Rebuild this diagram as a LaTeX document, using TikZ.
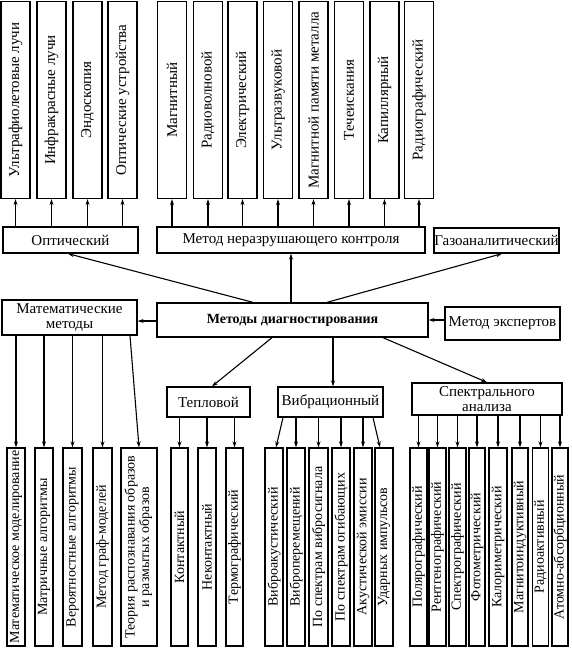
\documentclass[tikz,border=0pt]{standalone}
\usepackage{fontspec}
\setmainfont{Liberation Serif}
\usetikzlibrary{arrows.meta}
\begin{document}
\begin{tikzpicture}[x=1pt,y=-1pt,
  box/.style={draw, line width=1.3pt, inner sep=0pt},
  topbox/.style={box, minimum height=197pt, minimum width=29pt, font=\fontsize{15}{17}\selectfont},
  botbox/.style={box, minimum height=198pt, font=\fontsize{14}{14.5}\selectfont},
  midbox/.style={box, align=center, font=\fontsize{15}{15}\selectfont},
  arr/.style={line width=1.1pt, -{Stealth[length=6pt,width=4pt]}}]
\useasboundingbox (0,0) rectangle (572,649);

% top row: optical
\node[topbox] (u1) at (15.5,100) {\rotatebox{90}{Ультрафиолетовые лучи}};
\node[topbox] (u2) at (51.5,100) {\rotatebox{90}{Инфракрасные лучи}};
\node[topbox] (u3) at (87.5,100) {\rotatebox{90}{Эндоскопия}};
\node[topbox] (u4) at (122.5,100) {\rotatebox{90}{Оптические устройства}};
% top row: NDT
\node[topbox] (k1) at (172,100) {\rotatebox{90}{Магнитный}};
\node[topbox] (k2) at (208,100) {\rotatebox{90}{Радиоволновой}};
\node[topbox] (k3) at (242.5,100) {\rotatebox{90}{Электрический}};
\node[topbox] (k4) at (278,100) {\rotatebox{90}{Ультразвуковой}};
\node[topbox] (k5) at (313.5,100) {\rotatebox{90}{Магнитной памяти металла}};
\node[topbox] (k6) at (349,100) {\rotatebox{90}{Течеискания}};
\node[topbox] (k7) at (384.5,100) {\rotatebox{90}{Капиллярный}};
\node[topbox] (k8) at (419,100) {\rotatebox{90}{Радиографический}};

% second row
\node[midbox, minimum width=135pt, minimum height=26pt] (opt) at (70.5,240) {Оптический};
\node[midbox, minimum width=268pt, minimum height=26pt] (nk) at (291,240) {Метод неразрушающего контроля};
\node[midbox, minimum width=125pt, minimum height=25pt] (gas) at (496.5,240.5) {Газоаналитический};

% central row
\node[midbox, minimum width=271pt, minimum height=34pt, font=\fontsize{14}{15}\selectfont\bfseries] (cen) at (292.5,320) {Методы диагностирования};
\node[midbox, minimum width=135pt, minimum height=35pt] (math) at (69.5,317.5) {Математические\\методы};
\node[midbox, minimum width=115pt, minimum height=33pt] (exp) at (502.5,323.5) {Метод экспертов};

% third row
\node[midbox, minimum width=83pt, minimum height=30pt] (th) at (208.5,402) {Тепловой};
\node[midbox, minimum width=105pt, minimum height=30pt] (vib) at (330.5,402) {Вибрационный};
\node[midbox, minimum width=150pt, minimum height=32pt] (spec) at (487,399) {Спектрального\\анализа};

% bottom row: math
\node[botbox, minimum width=18pt] (m1) at (16,547) {\rotatebox{90}{Математическое моделирование}};
\node[botbox, minimum width=18pt] (m2) at (44,547) {\rotatebox{90}{Матричные алгоритмы}};
\node[botbox, minimum width=19pt] (m3) at (72.5,547) {\rotatebox{90}{Вероятностные алгоритмы}};
\node[botbox, minimum width=19pt] (m4) at (102.5,547) {\rotatebox{90}{Метод граф-моделей}};
\node[botbox, minimum width=36pt] (m5) at (139,547) {\rotatebox{90}{\begin{tabular}{@{}c@{}}Теория распознавания образов\\и размытых образов\end{tabular}}};
% bottom row: thermal
\node[botbox, minimum width=17pt] (t1) at (179.5,547) {\rotatebox{90}{Контактный}};
\node[botbox, minimum width=18pt] (t2) at (207,547) {\rotatebox{90}{Неконтактный}};
\node[botbox, minimum width=17pt] (t3) at (234.5,547) {\rotatebox{90}{Термографический}};
% bottom row: vibration
\node[botbox, minimum width=18pt] (v1) at (274,547) {\rotatebox{90}{Виброакустический}};
\node[botbox, minimum width=18pt] (v2) at (296,547) {\rotatebox{90}{Виброперемещений}};
\node[botbox, minimum width=19pt] (v3) at (318.5,547) {\rotatebox{90}{По спектрам вибросигнала}};
\node[botbox, minimum width=18pt] (v4) at (341,547) {\rotatebox{90}{По спектрам огибающих}};
\node[botbox, minimum width=18pt] (v5) at (363,547) {\rotatebox{90}{Акустической эмиссии}};
\node[botbox, minimum width=18pt] (v6) at (384,547) {\rotatebox{90}{Ударных импульсов}};
% bottom row: spectral
\node[botbox, minimum width=17pt] (s1) at (418.5,547) {\rotatebox{90}{Полярографический}};
\node[botbox, minimum width=17pt] (s2) at (437.5,547) {\rotatebox{90}{Рентгенографический}};
\node[botbox, minimum width=17pt] (s3) at (457.5,547) {\rotatebox{90}{Спектрографический}};
\node[botbox, minimum width=16pt] (s4) at (477,547) {\rotatebox{90}{Фотометрический}};
\node[botbox, minimum width=18pt] (s5) at (498,547) {\rotatebox{90}{Калориметрический}};
\node[botbox, minimum width=16pt] (s6) at (520,547) {\rotatebox{90}{Магнитоиндуктивный}};
\node[botbox, minimum width=16pt] (s7) at (540.5,547) {\rotatebox{90}{Радиоактивный}};
\node[botbox, minimum width=16pt] (s8) at (560,547) {\rotatebox{90}{Атомно-абсорбционный}};

% arrows: top
\foreach \n in {u1,u2,u3,u4} \draw[arr] (opt.north -| \n.south) -- (\n.south);
\foreach \n in {k1,k2,k3,k4,k5,k6,k7,k8} \draw[arr] (nk.north -| \n.south) -- (\n.south);

% arrows from central
\draw[arr] ([xshift=-39.5pt]cen.north) -- ([xshift=-2.5pt]opt.south);
\draw[arr] (cen.north -| nk.south) -- (nk.south);
\draw[arr] ([xshift=34.5pt]cen.north) -- ([xshift=5.5pt]gas.south);
\draw[arr] ([yshift=-1pt]cen.west) -- ([yshift=-1pt]cen.west -| math.east);
\draw[arr] (cen.east -| exp.west) -- (cen.east);
\draw[arr] ([xshift=-20.5pt]cen.south) -- ([xshift=3.5pt]th.north);
\draw[arr] ([xshift=40.5pt]cen.south) -- ([xshift=2.5pt]vib.north);
\draw[arr] ([xshift=90.5pt]cen.south) -- (spec.north);

% arrows to bottom
\foreach \n in {m1,m2,m3,m4} \draw[arr] (math.south -| \n.north) -- (\n.north);
\draw[arr] ([xshift=60.5pt]math.south) -- (m5.north);
\foreach \n in {t1,t2,t3} \draw[arr] (th.south -| \n.north) -- (\n.north);
\draw[arr] ([xshift=-47.5pt]vib.south) -- ([xshift=2pt]v1.north);
\foreach \n in {v2,v3,v4,v5} \draw[arr] (vib.south -| \n.north) -- (\n.north);
\draw[arr] ([xshift=42.5pt]vib.south) -- ([xshift=-4pt]v6.north);
\foreach \n in {s1,s2,s3,s4,s5,s6,s7,s8} \draw[arr] (spec.south -| \n.north) -- (\n.north);
\end{tikzpicture}
\end{document}
